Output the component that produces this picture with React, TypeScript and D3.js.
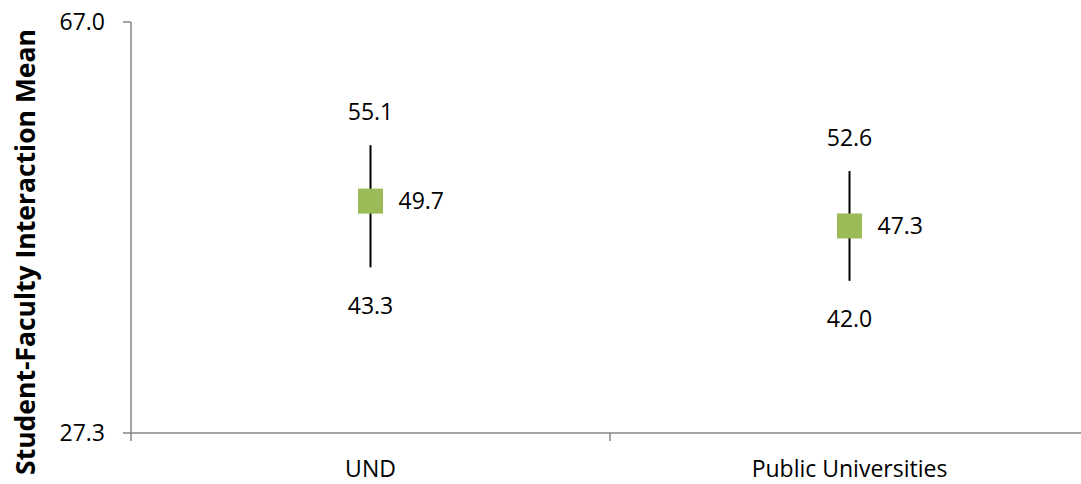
import React from "react";
import * as d3 from "d3";

const categories = ["UND", "Public Universities"];
const means = [49.7, 47.3];
const upper = [55.1, 52.6];
const lower = [43.3, 42.0];
const yTickLabels = ["27.3", "67.0"];
const yTitle = "Student-Faculty Interaction Mean";

const W = 1081;
const H = 484;
const FONT = "'Open Sans', sans-serif";

export default function App() {
  const yMin = +yTickLabels[0];
  const yMax = +yTickLabels[1];
  const y = d3.scaleLinear().domain([yMin, yMax]).range([433, 22]);
  const x = d3.scaleBand<string>().domain(categories).range([131, 1089]);
  const cx = (c: string) => (x(c) as number) + x.bandwidth() / 2;
  const axisColor = "#868686";
  const fs = 23;
  const sq = 25;

  return (
    <svg
      width={W}
      height={H}
      style={{ position: "absolute", left: 0, top: 0, background: "#fff" }}
      fontFamily={FONT}
    >
      {/* axes */}
      <line x1={131} x2={131} y1={y(yMax)} y2={y(yMin) + 8} stroke={axisColor} strokeWidth={1.5} />
      <line x1={123} x2={131} y1={y(yMax)} y2={y(yMax)} stroke={axisColor} strokeWidth={1.5} />
      <line x1={123} x2={131} y1={y(yMin)} y2={y(yMin)} stroke={axisColor} strokeWidth={1.5} />
      <line x1={131} x2={W} y1={y(yMin)} y2={y(yMin)} stroke={axisColor} strokeWidth={1.5} />
      {categories.slice(1).map((c) => (
        <line key={c} x1={x(c) as number} x2={x(c) as number} y1={y(yMin)} y2={y(yMin) + 8} stroke={axisColor} strokeWidth={1.5} />
      ))}
      {yTickLabels.map((t) => (
        <text key={t} x={105} y={y(+t)} dy="0.35em" textAnchor="end" fontSize={fs} fill="#000">
          {t}
        </text>
      ))}
      {categories.map((c) => (
        <text key={c} x={cx(c)} y={477} textAnchor="middle" fontSize={fs} fill="#000">
          {c}
        </text>
      ))}
      <text
        transform={`translate(35, 252) rotate(-90)`}
        textAnchor="middle"
        fontSize={26.5}
        fontWeight="bold"
        fill="#000"
      >
        {yTitle}
      </text>
      {/* marks */}
      {categories.map((c, i) => {
        const px = cx(c);
        return (
          <g key={c}>
            <line x1={px} x2={px} y1={y(upper[i])} y2={y(lower[i])} stroke="#000" strokeWidth={2} />
            <rect x={px - sq / 2} y={y(means[i]) - sq / 2} width={sq} height={sq} fill="#9bbb59" />
            <text x={px} y={y(upper[i]) - 25} textAnchor="middle" fontSize={fs} fill="#000">
              {upper[i].toFixed(1)}
            </text>
            <text x={px} y={y(lower[i]) + 30} dy="0.72em" textAnchor="middle" fontSize={fs} fill="#000">
              {lower[i].toFixed(1)}
            </text>
            <text x={px + 28} y={y(means[i])} dy="0.35em" textAnchor="start" fontSize={fs} fill="#000">
              {means[i].toFixed(1)}
            </text>
          </g>
        );
      })}
    </svg>
  );
}
